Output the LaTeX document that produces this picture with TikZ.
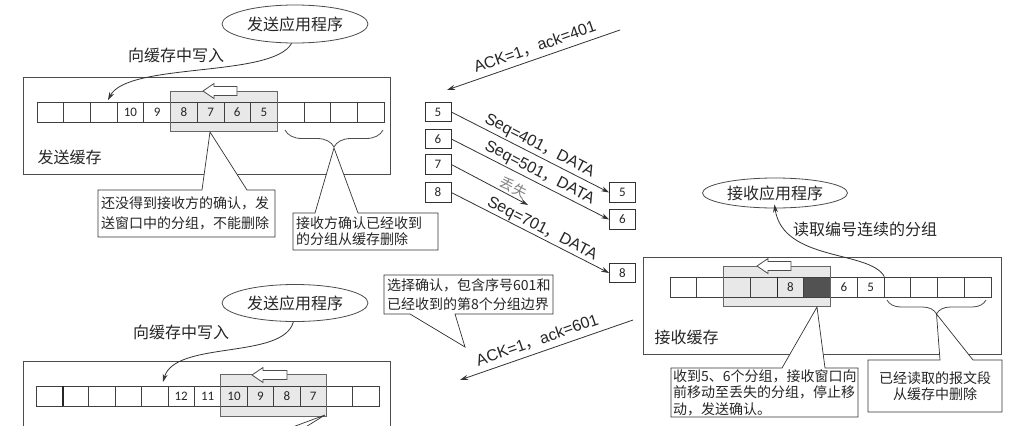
\documentclass[tikz,border=0pt]{standalone}
\usepackage{fontspec}
\setmainfont{Liberation Sans}
\newfontfamily\cjk{Noto Sans CJK SC}
\newfontfamily\numf{Carlito}
\usetikzlibrary{shapes.geometric,arrows.meta,decorations.pathreplacing}
\begin{document}
\begin{tikzpicture}[x=1pt,y=-1pt,
 every node/.style={text=black!85},
 bufbox/.style={draw=black!70, line width=0.8pt},
 cell/.style={draw=black!75, line width=0.7pt, minimum height=20pt, inner sep=0pt, font=\numf\fontsize{13}{13}\selectfont},
 winfill/.style={fill=black!9},
 winline/.style={draw=black!60, line width=0.8pt},
 harrow/.style={draw=black!70, line width=0.8pt, fill=white},
 app/.style={ellipse, draw=black!70, line width=0.8pt, minimum width=146pt, minimum height=38pt, inner sep=0pt, font=\cjk\fontsize{16}{18}\selectfont},
 lab/.style={font=\cjk\fontsize{16}{18}\selectfont},
 co/.style={draw=black!80, line width=0.7pt, fill=white},
 cot/.style={font=\cjk\fontsize{14}{#1}\selectfont, align=left, inner sep=0pt},
 pkt/.style={draw=black!80, line width=0.7pt, minimum width=26pt, minimum height=19.5pt, inner sep=0pt, font=\numf\fontsize{13}{13}\selectfont, fill=white},
 flow/.style={draw=black!80, line width=0.8pt, -{Stealth[length=8pt,width=5pt]}},
 wlab/.style={font=\fontsize{16}{18}\selectfont, sloped, inner sep=2pt},
 brc/.style={draw=black!70, line width=0.8pt, decorate, decoration={brace, mirror, amplitude=#1}},
]
\useasboundingbox (0,0) rectangle (1029,426);
\fill[white] (0,0) rectangle (1029,426);

% ================= top sender =================
\node[app] (tapp) at (295,24) {发送应用程序};
\node[lab] (twl) at (176,55) {向缓存中写入};
\draw[bufbox] (23,77) rectangle (390,174);
\fill[winfill] (170.5,91) rectangle (277.3,131);
\foreach \i/\t/\f in {0//white,1//white,2//white,3/10/white,4/9/white,5/8/none,6/7/none,7/6/none,8/5/none,9//white,10//white,11//white,12//white}
  \node[cell, minimum width=26.7pt, fill=\f] (ta\i) at ({50.35+26.7*\i},112) {\t};
\draw[winline] (170.5,91) rectangle (277.3,131);
\begin{scope}[shift={(203,91)}]
 \draw[harrow] (0,0) -- (11,-7.5) -- (11,-4.5) -- (34,-4.5) -- (34,4.5) -- (11,4.5) -- (11,7.5) -- cycle;
\end{scope}
\node[lab, anchor=west] (tbl) at (34,157) {发送缓存};
\coordinate (tw) at (108,100);
\draw[flow] (tapp.-100) .. controls (272,78) and (128,62) .. (tw);
\draw[brc=17] (285,130) -- (383,130);
\coordinate (tbt) at (334,148);
% callout 1
\coordinate (c1t) at (210,132);
\draw[co] (98,190) -- (202,190) -- (c1t) -- (247,190) -- (275,190) -- (275,237) -- (98,237) -- cycle;
\node[cot=20, anchor=west] (c1) at (101,213.5) {还没得到接收方的确认，发\\送窗口中的分组，不能删除};
% callout 2
\draw[co] (293,213) -- (315,213) -- (tbt) -- (358,213) -- (438,213) -- (438,250) -- (293,250) -- cycle;
\node[cot=16, anchor=west] (c2) at (296,231.5) {接收方确认已经收到\\的分组从缓存删除};

% ================= packets =================
\node[pkt] (s5) at (438,112) {5};
\node[pkt] (s6) at (438,139) {6};
\node[pkt] (s7) at (438,164.5) {7};
\node[pkt] (s8) at (438,192.5) {8};
\node[pkt] (r5) at (622.5,192.5) {5};
\node[pkt] (r6) at (622.5,219.5) {6};
\node[pkt] (r8) at (622.5,273) {8};
\coordinate (lost) at (528,205);
\draw[flow] (s5.east) -- node[wlab, above, pos=0.53] (l401) {Seq=401{\cjk ，}DATA} (r5.west);
\draw[flow] (s6.east) -- node[wlab, above, pos=0.53] (l501) {Seq=501{\cjk ，}DATA} (r6.west);
\draw[flow] (s7.east) -- node[sloped, above, pos=0.76, inner sep=2pt, font=\cjk\fontsize{14}{14}\selectfont, text=black!50] (llost) {丢失} (lost);
\draw[flow] (s8.east) -- node[wlab, above, pos=0.55, inner sep=1pt] (l701) {Seq=701{\cjk ，}DATA} (r8.west);

\coordinate (a1s) at (620,30);
\coordinate (a1e) at (447,90);
\draw[flow] (a1s) -- node[wlab, above, pos=0.47, inner sep=4.5pt] (la1) {ACK=1{\cjk ，}ack=401} (a1e);
\coordinate (a2s) at (633,320);
\coordinate (a2e) at (460,380);
\draw[flow] (a2s) -- node[wlab, above, pos=0.53, inner sep=5pt] (la2) {ACK=1{\cjk ，}ack=601} (a2e);
% callout 3
\coordinate (c3t) at (465,347);
\draw[co] (384,275) -- (553,275) -- (553,314) -- (455,314) -- (c3t) -- (410,314) -- (384,314) -- cycle;
\node[cot=19, anchor=west] (c3) at (387,294.5) {选择确认，包含序号601和\\已经收到的第8个分组边界};

% ================= bottom sender =================
\node[app, minimum height=37pt] (bapp) at (295,303) {发送应用程序};
\node[lab] (bwl) at (181,332) {向缓存中写入};
\draw[bufbox] (23,361) -- (23,445) (23,361) -- (390,361) -- (390,445);
\fill[winfill] (220.8,374) rectangle (326.4,416);
\foreach \i/\t/\f in {0//white,1//white,2//white,3//white,4//white,5/12/white,6/11/white,7/10/none,8/9/none,9/8/none,10/7/none,11//white,12//white}
  \node[cell, minimum width=26.4pt, fill=\f] (bc\i) at ({49.2+26.4*\i},396) {\t};
\draw[line width=1.5pt, black!85] (bc0.north east) -- (bc0.south east);
\draw[winline] (220.8,374) rectangle (326.4,416);
\begin{scope}[shift={(252,375)}]
 \draw[harrow] (0,0) -- (11,-7.5) -- (11,-4.5) -- (35,-4.5) -- (35,4.5) -- (11,4.5) -- (11,7.5) -- cycle;
\end{scope}
\coordinate (bw) at (163,382);
\draw[flow] (bapp.-95) .. controls (283,360) and (175,340) .. (bw);
\coordinate (bwt) at (325,415);
\draw[co, fill=none] (290,428) -- (bwt) -- (304,428);

% ================= receiver =================
\node[app, minimum width=145pt, minimum height=30pt] (rapp) at (775,193) {接收应用程序};
\node[lab] (rwl) at (865,229) {读取编号连续的分组};
\draw[bufbox] (643,257) rectangle (1001,354);
\fill[winfill] (723.5,266) rectangle (830.5,306);
\foreach \i/\t/\f in {0//white,1//white,2//none,3//none,4/8/none,5//black!68,6/6/white,7/5/white,8//white,9//white,10//white,11//white}
  \node[cell, minimum width=26.75pt, fill=\f] (rc\i) at ({683.375+26.75*\i},287) {\t};
\draw[line width=1.5pt, black!85] (rc3.north east) -- (rc3.south east);
\draw[winline] (723.5,266) rectangle (830.5,306);
\begin{scope}[shift={(757,266)}]
 \draw[harrow] (0,0) -- (11,-7.5) -- (11,-4.5) -- (34,-4.5) -- (34,4.5) -- (11,4.5) -- (11,7.5) -- cycle;
\end{scope}
\node[lab, anchor=west] (rbl) at (651,337) {接收缓存};
\draw[flow, shorten >=-4pt] (rc7.north east) .. controls (870,250) and (783,262) .. (rapp.south);
\draw[brc=14] (887,300) -- (986,300);
\coordinate (rbt) at (936.5,314);
% callout 4
\coordinate (c4t) at (817,307);
\draw[co] (671,368) -- (782,368) -- (c4t) -- (825,368) -- (858,368) -- (858,417) -- (671,417) -- cycle;
\node[cot=16.5, anchor=west] (c4) at (673,392.5) {收到5、6个分组，接收窗口向\\前移动至丢失的分组，停止移\\动，发送确认。};
% callout 5
\draw[co] (868,360) -- (940,360) -- (rbt) -- (973,360) -- (1002,360) -- (1002,412) -- (868,412) -- cycle;
\node[cot=16, align=center] (c5) at (935,386) {已经读取的报文段\\从缓存中删除};
\end{tikzpicture}
\end{document}
